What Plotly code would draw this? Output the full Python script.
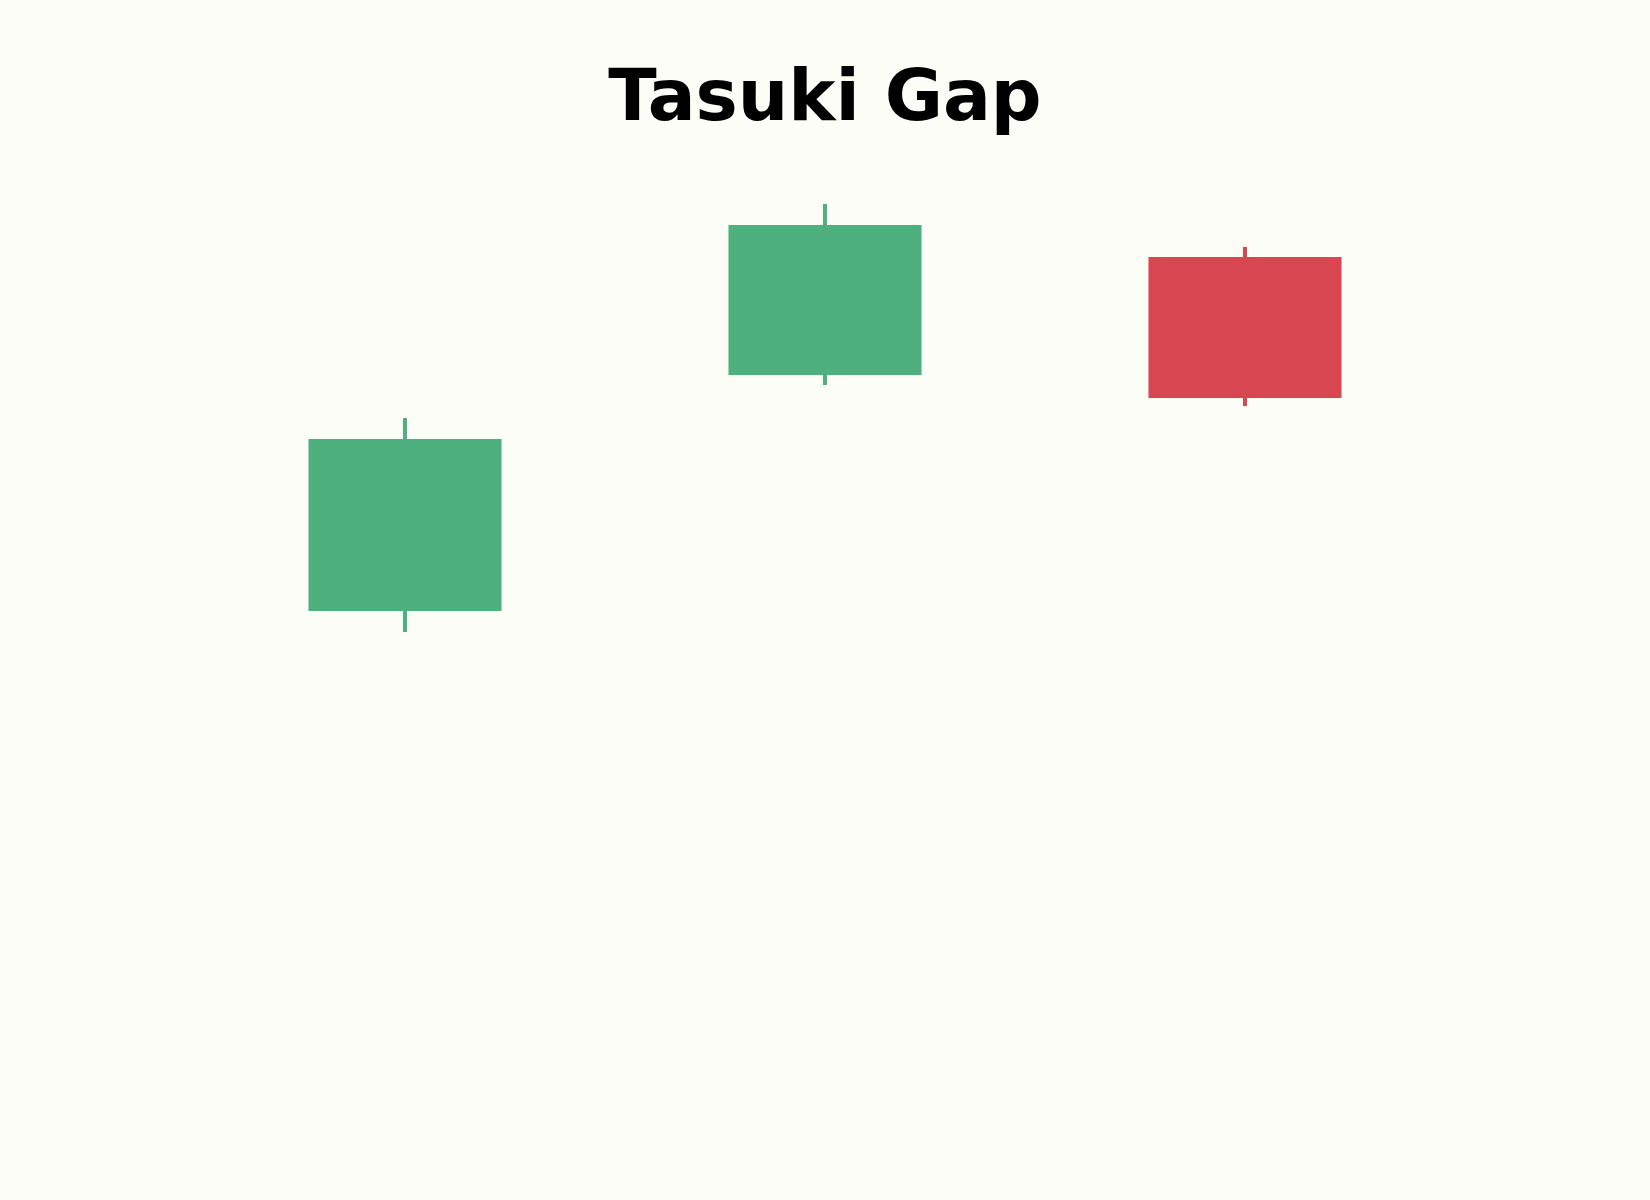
import plotly.graph_objects as go

# three candles of the pattern
days = [0, 1, 2]
opens = [100.0, 114.05, 120.83]
highs = [111.37, 124.11, 121.55]
lows = [98.63, 113.33, 112.08]
closes = [110.0, 122.74, 112.68]

green = "#4eb07f"
red = "#d84651"
bg = "#fdfdf8"

fig = go.Figure()
fig.add_trace(go.Candlestick(
    x=days, open=opens, high=highs, low=lows, close=closes,
    increasing=dict(fillcolor=green, line=dict(color=green, width=4)),
    decreasing=dict(fillcolor=red, line=dict(color=red, width=4)),
    whiskerwidth=0,
    showlegend=False,
))

fig.update_layout(
    width=1650, height=1200,
    paper_bgcolor=bg, plot_bgcolor=bg,
    margin=dict(l=195, r=195, t=150, b=50),
    boxgap=0.357,
    title=dict(text="Tasuki Gap", x=0.5, xanchor="center", y=1 - 95/1200, yanchor="middle",
               font=dict(family="DejaVu Sans", size=71, color="black", weight="bold")),
    xaxis=dict(range=[-0.5, 2.5], visible=False, rangeslider=dict(visible=False)),
    yaxis=dict(range=[67.80, 127.32], visible=False),
)

# no page margin so the figure sits flush in the window
fig.write_html("out.html", config={"displayModeBar": False},
               post_script="document.body.style.margin='0';")
